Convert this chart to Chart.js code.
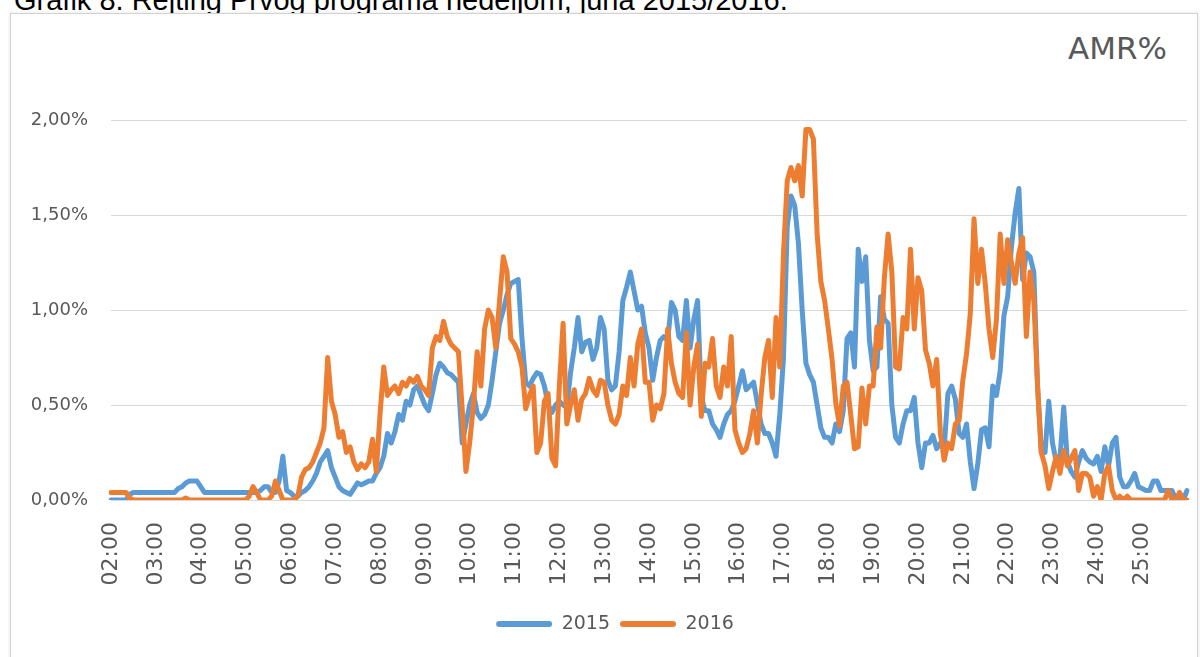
<!DOCTYPE html>
<html>
<head>
<meta charset="utf-8">
<script src="https://cdn.jsdelivr.net/npm/chart.js@4.4.1/dist/chart.umd.min.js"></script>
<style>
  html, body { margin: 0; padding: 0; background: #fff; overflow: hidden; }
  body { width: 1200px; height: 657px; position: relative; }
  #caption { position: absolute; left: 14px; top: -14px; font: 29px 'Liberation Sans', Arial, sans-serif; line-height: 29px; color: #000; white-space: nowrap; }
  #frame { position: absolute; left: 10px; top: 13px; width: 1186px; height: 680px; border: 1px solid #d2d2d2; box-shadow: 0 0 3px rgba(0,0,0,0.12); background: #fff; }
  #unit { position: absolute; right: 33px; top: 33px; font: 31px 'DejaVu Sans', sans-serif; line-height: 31px; color: #595959; }
  #chart { position: absolute; left: 0; top: 0; }
</style>
</head>
<body>
<div id="caption">Grafik 8. Rejting Prvog programa nedeljom, juna 2015/2016.</div>
<div id="frame"></div>
<div id="unit">AMR%</div>
<canvas id="chart" width="1200" height="657"></canvas>
<script>
const hourLabels = ['02:00', '03:00', '04:00', '05:00', '06:00', '07:00', '08:00', '09:00',
  '10:00', '11:00', '12:00', '13:00', '14:00', '15:00', '16:00', '17:00', '18:00', '19:00',
  '20:00', '21:00', '22:00', '23:00', '24:00', '25:00'];
const minuteMarks = ['00', '05', '10', '15', '20', '25', '30', '35', '40', '45', '50', '55'];
const endLabel = '26:00';

// AMR% every 5 minutes, one row per hour (last row also holds 26:00)
const amr2015 = [
  0, 0, 0, 0, 0, 0.03, 0.04, 0.04, 0.04, 0.04, 0.04, 0.04,
  0.04, 0.04, 0.04, 0.04, 0.04, 0.04, 0.06, 0.07, 0.09, 0.1, 0.1, 0.1,
  0.07, 0.04, 0.04, 0.04, 0.04, 0.04, 0.04, 0.04, 0.04, 0.04, 0.04, 0.04,
  0.04, 0.04, 0.04, 0.04, 0.05, 0.07, 0.07, 0.04, 0.04, 0.1, 0.23, 0.05,
  0.04, 0.02, 0.02, 0.04, 0.05, 0.07, 0.1, 0.14, 0.2, 0.23, 0.26, 0.17,
  0.12, 0.07, 0.05, 0.04, 0.03, 0.06, 0.09, 0.08, 0.09, 0.1, 0.1, 0.14,
  0.17, 0.23, 0.35, 0.3, 0.36, 0.45, 0.42, 0.52, 0.5, 0.58, 0.6, 0.55,
  0.5, 0.47, 0.56, 0.66, 0.72, 0.7, 0.67, 0.66, 0.64, 0.62, 0.3, 0.4,
  0.5, 0.56, 0.46, 0.43, 0.45, 0.5, 0.63, 0.78, 0.93, 1.0, 1.08, 1.14,
  1.15, 1.16, 0.85, 0.62, 0.6, 0.64, 0.67, 0.66, 0.6, 0.5, 0.46, 0.5,
  0.52, 0.5, 0.49, 0.67, 0.8, 0.96, 0.78, 0.83, 0.84, 0.74, 0.8, 0.96,
  0.9, 0.63, 0.58, 0.6, 0.78, 1.05, 1.12, 1.2, 1.1, 1.0, 1.02, 0.88,
  0.8, 0.63, 0.75, 0.84, 0.86, 0.84, 1.04, 1.0, 0.86, 0.84, 1.05, 0.8,
  0.95, 1.05, 0.54, 0.47, 0.47, 0.4, 0.37, 0.33, 0.4, 0.45, 0.47, 0.52,
  0.6, 0.68, 0.58, 0.6, 0.62, 0.51, 0.4, 0.35, 0.35, 0.3, 0.23, 0.45,
  0.75, 1.44, 1.6, 1.55, 1.35, 1.0, 0.72, 0.66, 0.62, 0.5, 0.38, 0.33,
  0.33, 0.3, 0.4, 0.36, 0.47, 0.85, 0.88, 0.7, 1.32, 1.15, 1.28, 0.84,
  0.68, 0.7, 1.07, 0.95, 0.93, 0.5, 0.33, 0.3, 0.4, 0.47, 0.47, 0.54,
  0.3, 0.17, 0.3, 0.3, 0.34, 0.27, 0.3, 0.27, 0.56, 0.6, 0.53, 0.35,
  0.33, 0.4, 0.2, 0.06, 0.19, 0.37, 0.38, 0.28, 0.6, 0.55, 0.68, 0.97,
  1.07, 1.33, 1.51, 1.64, 1.16, 1.3, 1.28, 1.2, 0.6, 0.25, 0.25, 0.52,
  0.3, 0.2, 0.22, 0.49, 0.2, 0.15, 0.12, 0.2, 0.26, 0.22, 0.2, 0.19,
  0.23, 0.15, 0.28, 0.18, 0.3, 0.33, 0.12, 0.07, 0.07, 0.1, 0.14, 0.07,
  0.06, 0.05, 0.05, 0.1, 0.1, 0.05, 0.05, 0.05, 0.05, 0, 0, 0, 0.05
];

const amr2016 = [
  0.04, 0.04, 0.04, 0.04, 0.04, 0.01, 0, 0, 0, 0, 0, 0,
  0, 0, 0, 0, 0, 0, 0, 0, 0.01, 0, 0, 0,
  0, 0, 0, 0, 0, 0, 0, 0, 0, 0, 0, 0,
  0, 0.02, 0.07, 0.04, 0, 0, 0, 0.02, 0.1, 0.05, 0, 0,
  0, 0, 0.02, 0.12, 0.16, 0.17, 0.2, 0.25, 0.3, 0.38, 0.75, 0.52,
  0.45, 0.33, 0.36, 0.25, 0.28, 0.2, 0.16, 0.19, 0.17, 0.2, 0.32, 0.15,
  0.45, 0.7, 0.55, 0.58, 0.6, 0.56, 0.62, 0.6, 0.64, 0.62, 0.65, 0.6,
  0.58, 0.55, 0.8, 0.86, 0.84, 0.94, 0.86, 0.82, 0.8, 0.78, 0.48, 0.15,
  0.3, 0.5, 0.78, 0.6, 0.9, 1.0, 0.96, 0.8, 1.05, 1.28, 1.2, 0.85,
  0.82, 0.78, 0.7, 0.48, 0.55, 0.6, 0.25, 0.3, 0.52, 0.56, 0.22, 0.18,
  0.6, 0.93, 0.4, 0.5, 0.58, 0.42, 0.53, 0.56, 0.64, 0.58, 0.55, 0.63,
  0.62, 0.5, 0.42, 0.4, 0.45, 0.6, 0.55, 0.75, 0.6, 0.82, 0.9, 0.62,
  0.62, 0.42, 0.5, 0.48, 0.56, 0.9, 0.72, 0.62, 0.56, 0.54, 0.88, 0.5,
  0.7, 0.82, 0.44, 0.72, 0.7, 0.85, 0.6, 0.54, 0.7, 0.6, 0.86, 0.37,
  0.3, 0.25, 0.27, 0.35, 0.47, 0.3, 0.55, 0.75, 0.84, 0.54, 0.96, 0.7,
  1.3, 1.68, 1.75, 1.68, 1.76, 1.6, 1.95, 1.95, 1.9, 1.4, 1.15, 1.05,
  0.9, 0.74, 0.51, 0.39, 0.6, 0.62, 0.45, 0.27, 0.28, 0.59, 0.4, 0.6,
  0.6, 0.91, 0.8, 1.17, 1.4, 1.2, 0.7, 0.69, 0.96, 0.9, 1.32, 0.9,
  1.17, 1.1, 0.79, 0.72, 0.6, 0.74, 0.35, 0.21, 0.3, 0.27, 0.4, 0.42,
  0.63, 0.77, 0.98, 1.48, 1.14, 1.32, 1.14, 0.9, 0.75, 0.95, 1.4, 1.14,
  1.37, 1.25, 1.14, 1.3, 1.38, 0.86, 1.2, 1.05, 0.6, 0.25, 0.18, 0.06,
  0.15, 0.23, 0.14, 0.26, 0.18, 0.22, 0.26, 0.05, 0.14, 0.14, 0.12, 0.02,
  0.07, 0, 0.14, 0.18, 0.05, 0, 0.02, 0, 0.02, 0, 0, 0,
  0, 0, 0, 0, 0, 0, 0, 0.05, 0, 0, 0.04, 0, 0
];

// category labels 02:00, 02:05, ... 26:00
const times = [];
hourLabels.forEach(h => minuteMarks.forEach(m => times.push(h.slice(0, 3) + m)));
times.push(endLabel);

const blue = '#5B9BD5';
const orange = '#ED7D31';
const textGray = '#595959';
const gridGray = '#d9d9d9';
const fontFamily = "'DejaVu Sans', sans-serif";

// legend sits a bit right of the canvas centre, under the plot
const legendShift = {
  id: 'legendShift',
  afterLayout(chart) {
    chart.legend.left += 11.5;
    chart.legend.right += 11.5;
  }
};

new Chart(document.getElementById('chart'), {
  type: 'line',
  data: {
    labels: times,
    datasets: [
      {
        label: '2015',
        data: amr2015,
        borderColor: blue,
        backgroundColor: blue,
        borderWidth: 5,
        order: 1
      },
      {
        label: '2016',
        data: amr2016,
        borderColor: orange,
        backgroundColor: orange,
        borderWidth: 5,
        order: 0
      }
    ]
  },
  plugins: [legendShift],
  options: {
    responsive: false,
    animation: false,
    devicePixelRatio: 1,
    layout: {
      padding: { left: 20, right: 13, top: 120, bottom: 13.5 }
    },
    elements: {
      point: { radius: 0, hoverRadius: 0 },
      line: { tension: 0, borderJoinStyle: 'round', borderCapStyle: 'round' }
    },
    plugins: {
      tooltip: { enabled: false },
      legend: {
        position: 'bottom',
        labels: {
          color: textGray,
          font: { family: fontFamily, size: 19 },
          boxWidth: 56,
          boxHeight: 6,
          padding: 10,
          useBorderRadius: true,
          borderRadius: 3,
          sort: (a, b) => a.datasetIndex - b.datasetIndex,
          generateLabels: chart =>
            Chart.defaults.plugins.legend.labels.generateLabels(chart)
              .map(item => Object.assign(item, { lineWidth: 0 }))
        }
      }
    },
    scales: {
      x: {
        grid: { display: false, drawTicks: false },
        border: { display: false },
        ticks: {
          autoSkip: false,
          minRotation: 90,
          maxRotation: 90,
          padding: 22,
          color: textGray,
          font: { family: fontFamily, size: 22 },
          callback: (val, i) => (i % 12 === 0 && i < times.length - 1) ? times[i] : null
        },
        afterFit: scale => { scale.height = 104.5; }
      },
      y: {
        min: 0,
        max: 2,
        border: { display: false },
        grid: { color: gridGray, lineWidth: 1, drawTicks: false },
        ticks: {
          stepSize: 0.5,
          padding: 23,
          color: textGray,
          font: { family: fontFamily, size: 18 },
          callback: v => v.toFixed(2).replace('.', ',') + '%'
        },
        afterFit: scale => { scale.width = 91; }
      }
    }
  }
});
</script>
</body>
</html>
